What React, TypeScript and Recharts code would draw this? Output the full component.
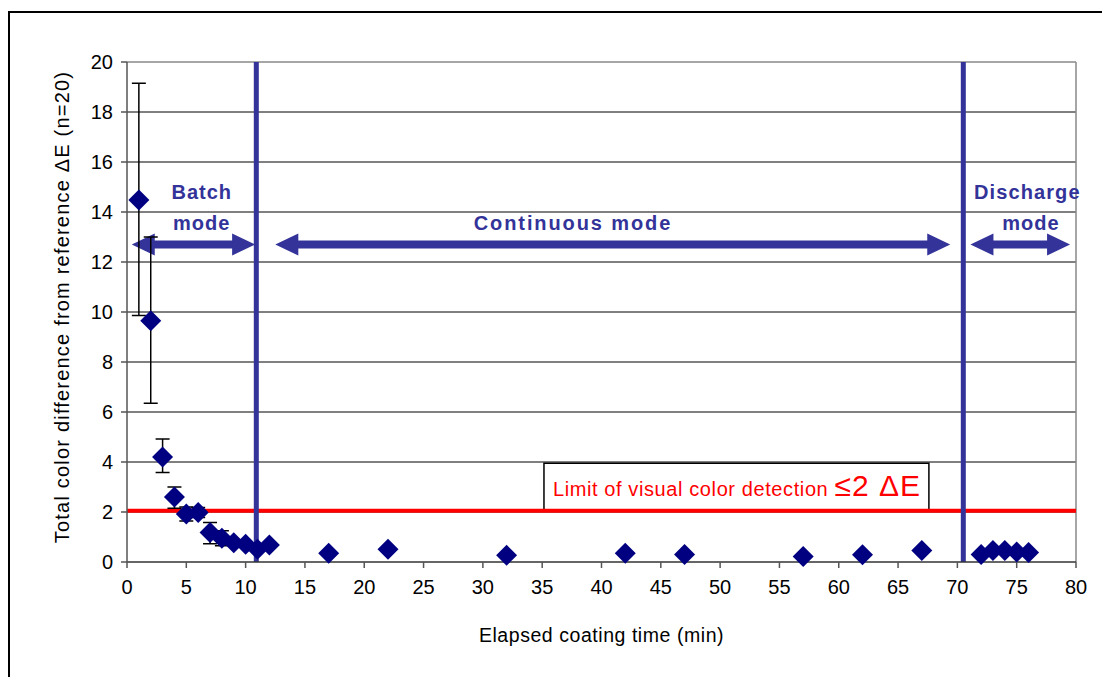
import {
  ScatterChart,
  Scatter,
  XAxis,
  YAxis,
  CartesianGrid,
  ErrorBar,
  ReferenceLine,
  ReferenceArea,
  ReferenceDot,
} from "recharts"

// elapsed time (min) and mean colour difference, points with error bars
const timeErr = [1, 2, 3, 4, 5, 6, 7, 8]
const deltaErr = [14.48, 9.65, 4.2, 2.6, 1.92, 1.98, 1.18, 0.95]
const errLow = [4.62, 3.3, 0.62, 0.45, 0.28, 0.2, 0.45, 0.3]
const errHigh = [4.67, 3.35, 0.72, 0.4, 0.28, 0.2, 0.4, 0.3]

// remaining points (no visible error bars)
const timePlain = [9, 10, 11, 12, 17, 22, 32, 42, 47, 57, 62, 67, 72, 73, 74, 75, 76]
const deltaPlain = [0.77, 0.71, 0.51, 0.68, 0.35, 0.51, 0.27, 0.35, 0.3, 0.22, 0.29, 0.46, 0.3, 0.46, 0.46, 0.4, 0.38]

const xTicks = [0, 5, 10, 15, 20, 25, 30, 35, 40, 45, 50, 55, 60, 65, 70, 75, 80]
const yTicks = [0, 2, 4, 6, 8, 10, 12, 14, 16, 18, 20]
const gridValues = [2, 4, 6, 8, 10, 12, 14, 16, 18]

// mode boundaries and detection limit
const modeLines = [10.9, 70.5]
const limitValue = 2.05

const arrows = [
  { from: 0.4, to: 10.8, y: 12.7 },
  { from: 12.5, to: 69.4, y: 12.7 },
  { from: 71.1, to: 79.5, y: 12.7 },
]
const modeLabels = [
  { x: 6.3, y: 14.8, text: "Batch", spacing: 1 },
  { x: 6.3, y: 13.55, text: "mode", spacing: 1 },
  { x: 37.6, y: 13.55, text: "Continuous mode", spacing: 1.9 },
  { x: 75.9, y: 14.8, text: "Discharge", spacing: 1.1 },
  { x: 76.2, y: 13.55, text: "mode", spacing: 1 },
]

const errData = timeErr.map((t, i) => ({ t, v: deltaErr[i], err: [errLow[i], errHigh[i]] }))
const plainData = timePlain.map((t, i) => ({ t, v: deltaPlain[i] }))

const NAVY = "#000080"
const BLUE = "#333399"
const FONT = "'Liberation Sans', Arial, sans-serif"

const Diamond = (p: any) => {
  const r = 10.5
  return (
    <polygon
      points={`${p.cx},${p.cy - r} ${p.cx + r},${p.cy} ${p.cx},${p.cy + r} ${p.cx - r},${p.cy}`}
      fill={NAVY}
    />
  )
}

const Arrow = (p: any) => {
  const { x1, x2, y1 } = p
  const head = 23
  const hh = 11
  const th = 4
  return (
    <g fill={BLUE}>
      <rect x={x1 + head - 1} y={y1 - th} width={x2 - x1 - 2 * head + 2} height={th * 2} />
      <polygon points={`${x1},${y1} ${x1 + head},${y1 - hh} ${x1 + head},${y1 + hh}`} />
      <polygon points={`${x2},${y1} ${x2 - head},${y1 - hh} ${x2 - head},${y1 + hh}`} />
    </g>
  )
}

const ModeText = (text: string, spacing: number) => (p: any) => (
  <text
    x={p.cx}
    y={p.cy}
    textAnchor="middle"
    dominantBaseline="central"
    fill={BLUE}
    fontSize={20}
    fontWeight="bold"
    letterSpacing={spacing}
    fontFamily={FONT}
  >
    {text}
  </text>
)

const LimitLabel = (p: any) => {
  const vb = p.viewBox
  return (
    <text x={vb.x + 9} y={vb.y + 33} fill="#ff0000" fontFamily={FONT}>
      <tspan fontSize={20} letterSpacing={0.6}>Limit of visual color detection </tspan>
      <tspan fontSize={30} letterSpacing={1}>≤2 ΔE</tspan>
    </text>
  )
}

const YTitle = () => {
  const cx = 52
  const cy = 294
  return (
    <text
      x={cx}
      y={cy}
      transform={`rotate(-90 ${cx} ${cy})`}
      textAnchor="middle"
      dominantBaseline="central"
      fontSize={20}
      letterSpacing={1.2}
      fill="#000"
      fontFamily={FONT}
    >
      Total color difference from reference ΔE (n=20)
    </text>
  )
}

export default function App() {
  return (
    <div
      style={{
        marginTop: 3,
        width: 1092,
        height: 664,
        borderLeft: "2px solid #000",
        borderTop: "2px solid #000",
      }}
    >
      <ScatterChart
        width={1092}
        height={664}
        margin={{ top: 49, right: 26, bottom: 35, left: 0 }}
        style={{ fontFamily: FONT }}
      >
        <CartesianGrid horizontal vertical={false} horizontalValues={gridValues} stroke="#000" strokeWidth={1} />
        <XAxis
          type="number"
          dataKey="t"
          domain={[0, 80]}
          ticks={xTicks}
          interval={0}
          height={80}
          tickSize={6}
          tickMargin={12}
          axisLine={{ stroke: "#333", strokeWidth: 1.5 }}
          tickLine={{ stroke: "#555", strokeWidth: 1.5 }}
          tick={{ fill: "#000", fontSize: 20 }}
          label={{
            value: "Elapsed coating time (min)",
            position: "insideBottom",
            offset: 0,
            fill: "#000",
            fontSize: 19.5,
            letterSpacing: 0.55,
          }}
        />
        <YAxis
          type="number"
          dataKey="v"
          domain={[0, 20]}
          ticks={yTicks}
          interval={0}
          width={117}
          tickSize={6}
          tickMargin={8}
          axisLine={{ stroke: "#555", strokeWidth: 1.5 }}
          tickLine={{ stroke: "#555", strokeWidth: 1.5 }}
          tick={{ fill: "#000", fontSize: 20 }}
          label={{ content: YTitle }}
        />
        <ReferenceLine y={20} stroke="#888" strokeWidth={1.5} />
        <ReferenceLine x={80} stroke="#888" strokeWidth={1.5} />
        <ReferenceArea
          x1={35.15}
          x2={67.6}
          y1={2.05}
          y2={3.95}
          fill="#fff"
          fillOpacity={1}
          stroke="#000"
          strokeWidth={1.5}
          label={{ content: LimitLabel }}
        />
        <ReferenceLine y={limitValue} stroke="#ff0000" strokeWidth={4} />
        {modeLines.map((x) => (
          <ReferenceLine key={x} x={x} stroke={BLUE} strokeWidth={5} />
        ))}
        {arrows.map((a, i) => (
          <ReferenceLine
            key={`arrow-${i}`}
            segment={[
              { x: a.from, y: a.y },
              { x: a.to, y: a.y },
            ]}
            shape={Arrow}
          />
        ))}
        {modeLabels.map((m, i) => (
          <ReferenceDot
            key={`lab-${i}`}
            x={m.x}
            y={m.y}
            r={0}
            shape={ModeText(m.text, m.spacing)}
            ifOverflow="visible"
          />
        ))}
        <Scatter data={errData} shape={Diamond} isAnimationActive={false}>
          <ErrorBar dataKey="err" direction="y" width={7} stroke="#000" strokeWidth={1.5} />
        </Scatter>
        <Scatter data={plainData} shape={Diamond} isAnimationActive={false} />
      </ScatterChart>
    </div>
  )
}
